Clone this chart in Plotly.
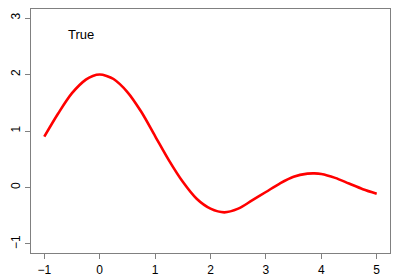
import plotly.graph_objects as go

x_vals = [-1, -0.75, -0.5, -0.25, -0.125, 0, 0.125, 0.25, 0.5, 0.75, 1, 1.25, 1.5, 1.75, 2,
          2.25, 2.5, 2.75, 3, 3.25, 3.5, 3.75, 3.875, 4, 4.25, 4.5, 4.75, 5]
y_vals = [0.90, 1.31, 1.67, 1.91, 1.975, 2.00, 1.975, 1.92, 1.69, 1.34, 0.91, 0.48, 0.10, -0.20, -0.375,
          -0.44, -0.375, -0.23, -0.08, 0.07, 0.19, 0.245, 0.25, 0.24, 0.17, 0.07, -0.03, -0.11]
x_ticks = [-1, 0, 1, 2, 3, 4, 5]
y_ticks = [-1, 0, 1, 2, 3]
label_text = "True"

fig = go.Figure()
fig.add_trace(go.Scatter(x=x_vals, y=y_vals, mode="lines",
                         line=dict(color="#FF0000", width=2.6, shape="spline", smoothing=0.9),
                         showlegend=False, hoverinfo="skip"))

fig.add_annotation(x=-0.34, y=2.71, xref="x", yref="y", text=label_text, showarrow=False,
                   font=dict(family="Liberation Sans, Arial", size=13, color="black"))

axis_common = dict(showgrid=False, zeroline=False, showline=True, mirror=True,
                   linecolor="#808080", linewidth=1.3, ticks="outside", ticklen=5,
                   tickcolor="#808080", tickwidth=1.3, automargin=False,
                   tickfont=dict(family="Liberation Sans, Arial", size=12, color="black"))

fig.update_layout(
    width=400, height=276,
    margin=dict(l=31, r=10, t=9, b=23),
    paper_bgcolor="white", plot_bgcolor="white",
    xaxis=dict(range=[-1.24, 5.24], tickvals=x_ticks, ticktext=[str(v).replace("-", "\u2212") for v in x_ticks], **axis_common),
    yaxis=dict(range=[-1.16, 3.16], tickvals=y_ticks, ticktext=[str(v).replace("-", "\u2212") for v in y_ticks], tickangle=-90, **axis_common),
)

fig.write_html("out.html")
